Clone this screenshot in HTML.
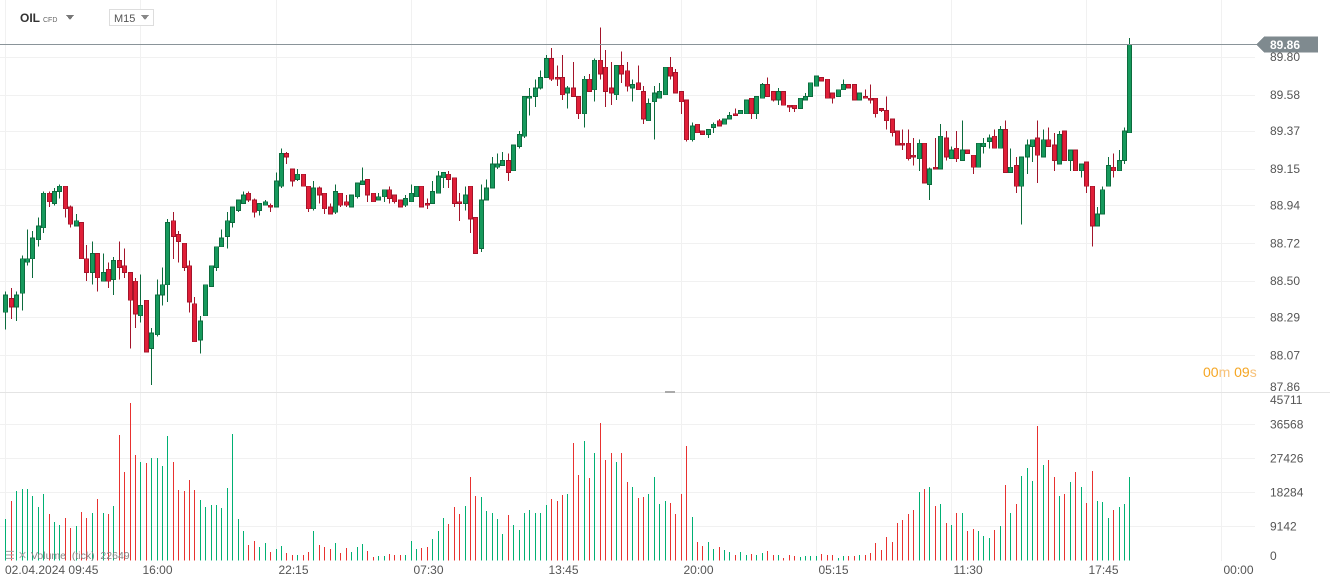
<!DOCTYPE html>
<html><head><meta charset="utf-8">
<style>
html,body{margin:0;padding:0;background:#fff;}
body{width:1330px;height:587px;overflow:hidden;position:relative;font-family:"Liberation Sans",sans-serif;}
svg{position:absolute;left:0;top:0;}
text{font-family:"Liberation Sans",sans-serif;}
</style></head>
<body>
<svg id="chart" width="1330" height="587" viewBox="0 0 1330 587" shape-rendering="crispEdges">
  <g id="grid"></g>
  <g id="vol"></g>
  <g id="candles"></g>
  <g id="axes"></g>
  <g>
    <text x="20" y="22" font-size="12" font-weight="bold" fill="#333">OIL</text>
    <text x="43" y="22" font-size="7" fill="#666">CFD</text>
    <path d="M66 15 L74 15 L70 20 Z" fill="#777"/>
    <rect x="109.5" y="9.5" width="44" height="16" fill="#fff" stroke="#ddd"/>
    <text x="114" y="22" font-size="11" fill="#555">M15</text>
    <path d="M141 15 L149 15 L145 20 Z" fill="#888"/>
  </g>
  <g>
    <text x="1203" y="377" font-size="14" fill="#f5a623"><tspan>00</tspan><tspan fill="#f7c27a">m</tspan><tspan> 09</tspan><tspan fill="#f7c27a">s</tspan></text>
  </g>
  <g>
    <text x="5" y="559" font-size="11" fill="#aaa">☰ ✕</text>
    <text x="31" y="559" font-size="10.5" fill="#888" xml:space="preserve">Volume  (tick)  22649</text>
  </g>
  <rect x="665" y="391" width="10" height="2" fill="#aaa"/>
</svg>
<script>
const openP=[88.32,88.40,88.35,88.43,88.61,88.63,88.74,88.81,89.01,88.95,89.02,89.05,88.93,88.82,88.84,88.63,88.55,88.66,88.50,88.57,88.51,88.62,88.59,88.55,88.50,88.30,88.39,88.11,88.19,88.42,88.48,88.85,88.77,88.72,88.59,88.37,88.16,88.30,88.47,88.58,88.70,88.76,88.84,88.91,88.95,89.01,88.97,88.91,88.94,88.94,88.93,89.05,
89.24,89.15,89.09,89.12,89.05,88.92,89.04,89.01,88.93,88.90,89.01,88.96,88.93,88.99,89.06,89.09,89.01,88.97,88.99,89.03,89.00,88.97,88.94,88.96,88.99,89.05,88.95,88.95,89.01,89.10,89.12,89.10,88.96,88.95,89.05,88.87,88.69,88.97,89.04,89.16,89.17,89.20,89.14,89.28,89.34,89.56,89.57,89.62,89.68,89.79,89.68,89.68,89.59,
89.62,89.57,89.47,89.67,89.61,89.78,89.74,89.62,89.58,89.75,89.72,89.62,89.65,89.60,89.43,89.54,89.56,89.58,89.74,89.71,89.60,89.55,89.32,89.41,89.37,89.35,89.39,89.43,89.41,89.44,89.47,89.47,89.47,89.56,89.47,89.56,89.64,89.60,89.55,89.60,89.52,89.52,89.50,89.55,89.57,89.63,89.68,89.67,89.59,89.57,89.61,89.64,89.64,89.55,
89.57,89.56,89.56,89.50,89.49,89.44,89.37,89.30,89.30,89.23,89.21,89.30,89.06,89.16,89.15,89.33,89.21,89.27,89.20,89.26,89.23,89.16,89.28,89.31,89.34,89.27,89.38,89.13,89.17,89.05,89.22,89.28,89.33,89.22,89.32,89.29,89.18,89.37,89.20,89.26,89.14,89.19,89.05,88.82,88.89,89.05,89.16,89.14,89.20,89.36];
const highP=[88.44,88.46,88.44,88.65,88.80,88.79,88.87,89.02,89.02,89.04,89.06,89.05,88.94,88.89,88.84,88.71,88.73,88.66,88.66,88.61,88.64,88.73,88.69,88.55,88.52,88.54,88.39,88.23,88.51,88.58,88.86,88.90,88.79,88.72,88.62,88.41,88.30,88.48,88.59,88.70,88.80,88.90,88.93,88.97,89.02,89.02,88.98,88.95,88.97,88.95,89.13,89.27,
89.25,89.15,89.15,89.12,89.05,89.08,89.05,89.01,88.95,89.06,89.01,89.00,89.00,89.07,89.16,89.09,89.01,89.01,89.03,89.05,89.00,88.97,89.00,89.06,89.05,89.05,88.98,89.08,89.14,89.13,89.14,89.10,89.01,89.05,89.05,88.87,89.06,89.09,89.22,89.24,89.25,89.24,89.29,89.37,89.57,89.62,89.67,89.72,89.81,89.85,89.75,89.81,89.63,
89.77,89.57,89.69,89.70,89.79,89.97,89.84,89.77,89.75,89.83,89.77,89.67,89.75,89.63,89.56,89.63,89.65,89.74,89.80,89.73,89.60,89.55,89.42,89.41,89.37,89.38,89.42,89.44,89.44,89.48,89.50,89.49,89.55,89.56,89.57,89.65,89.68,89.60,89.62,89.60,89.52,89.52,89.56,89.59,89.65,89.69,89.68,89.67,89.59,89.61,89.67,89.64,89.64,89.59,
89.61,89.64,89.56,89.50,89.57,89.44,89.37,89.38,89.38,89.33,89.32,89.30,89.16,89.33,89.41,89.37,89.28,89.37,89.43,89.26,89.23,89.30,89.33,89.35,89.38,89.40,89.43,89.27,89.22,89.22,89.32,89.32,89.43,89.38,89.39,89.36,89.37,89.37,89.26,89.26,89.18,89.19,89.05,88.93,89.05,89.22,89.24,89.26,89.39,89.91];
const lowP=[88.22,88.28,88.27,88.33,88.59,88.52,88.70,88.78,88.93,88.94,88.98,88.87,88.81,88.82,88.63,88.50,88.48,88.44,88.50,88.46,88.42,88.51,88.52,88.11,88.23,88.26,88.09,87.90,88.18,88.36,88.38,88.63,88.61,88.56,88.32,88.15,88.08,88.30,88.47,88.56,88.70,88.69,88.81,88.90,88.95,88.96,88.87,88.88,88.94,88.90,88.93,89.04,
89.18,89.05,89.08,89.05,88.90,88.91,88.95,88.89,88.89,88.89,88.93,88.93,88.93,88.98,89.06,88.96,88.96,88.97,88.96,88.95,88.95,88.93,88.93,88.96,88.99,88.93,88.92,88.95,89.01,89.04,89.04,88.93,88.85,88.91,88.78,88.66,88.67,88.97,89.04,89.15,89.17,89.08,89.14,89.27,89.33,89.46,89.51,89.61,89.68,89.66,89.63,89.55,89.50,
89.57,89.44,89.39,89.60,89.54,89.67,89.51,89.52,89.55,89.65,89.60,89.54,89.61,89.41,89.43,89.32,89.56,89.58,89.67,89.59,89.47,89.31,89.31,89.36,89.35,89.33,89.36,89.40,89.41,89.46,89.46,89.47,89.47,89.44,89.44,89.56,89.57,89.54,89.52,89.52,89.48,89.48,89.50,89.55,89.57,89.63,89.66,89.56,89.53,89.57,89.61,89.62,89.55,89.55,
89.56,89.53,89.45,89.48,89.38,89.34,89.29,89.26,89.20,89.17,89.14,89.07,88.97,89.15,89.15,89.20,89.21,89.19,89.26,89.24,89.12,89.16,89.24,89.27,89.27,89.27,89.13,89.13,89.01,88.83,89.12,89.19,89.07,89.22,89.28,89.14,89.18,89.20,89.14,89.14,89.10,89.01,88.70,88.82,88.89,89.05,89.10,89.14,89.18,89.36];
const closeP=[88.42,88.35,88.42,88.63,88.63,88.75,88.82,89.01,88.96,89.02,89.05,88.92,88.83,88.85,88.63,88.55,88.66,88.52,88.55,88.50,88.62,88.58,88.55,88.39,88.31,88.36,88.09,88.20,88.42,88.48,88.84,88.76,88.73,88.58,88.38,88.15,88.27,88.48,88.59,88.70,88.75,88.85,88.93,88.97,89.00,88.97,88.90,88.95,88.96,88.93,89.08,89.24,
89.22,89.08,89.12,89.05,88.92,89.04,89.00,88.92,88.89,89.02,88.94,88.94,89.00,89.07,89.08,89.00,88.96,88.99,89.03,88.98,88.96,88.93,88.98,89.01,89.05,88.93,88.94,89.02,89.11,89.13,89.09,88.95,88.95,89.00,88.86,88.66,88.97,89.04,89.18,89.18,89.20,89.13,89.29,89.35,89.57,89.57,89.62,89.68,89.79,89.67,89.67,89.58,89.62,
89.57,89.47,89.67,89.60,89.78,89.70,89.60,89.59,89.75,89.70,89.63,89.64,89.61,89.44,89.53,89.59,89.60,89.74,89.69,89.59,89.54,89.32,89.40,89.36,89.35,89.38,89.41,89.40,89.44,89.46,89.46,89.49,89.55,89.47,89.57,89.64,89.57,89.55,89.60,89.52,89.51,89.50,89.56,89.57,89.65,89.69,89.66,89.56,89.56,89.61,89.64,89.62,89.55,89.59,
89.56,89.55,89.47,89.49,89.43,89.36,89.29,89.29,89.21,89.22,89.30,89.07,89.15,89.15,89.34,89.22,89.26,89.21,89.26,89.24,89.16,89.30,89.30,89.33,89.27,89.38,89.13,89.16,89.05,89.22,89.29,89.32,89.23,89.32,89.28,89.20,89.35,89.20,89.26,89.14,89.18,89.05,88.82,88.89,89.03,89.17,89.14,89.20,89.37,89.87];
const volumes=[11100,15900,18600,19200,19200,17300,14300,17800,12500,10300,9500,11400,8700,9200,13000,11400,12700,16500,12700,12500,14600,33700,23700,42300,28300,26400,26200,27500,27500,25400,33400,26400,18900,18600,21600,18900,16200,14300,14900,14900,14100,19400,34000,11100,7900,4100,5200,3600,4700,2200,3000,3900,
2000,1400,1400,1400,2200,7900,4100,3600,3000,4700,2000,3300,2200,3600,4400,2500,900,1200,1200,1700,1400,1400,1400,5200,3000,3300,3600,5700,7900,11400,9800,14300,12500,14600,22400,17300,17000,13300,12700,11100,7100,12200,9500,8200,12700,13500,12700,12700,14900,16500,15900,17600,17800,
31500,22900,32100,22100,28900,36900,27000,28900,26400,28900,21100,19700,16800,17000,17800,22400,15100,15900,15400,12500,17800,30700,11600,4900,3900,4900,3000,3600,2800,2200,1400,2200,1400,1700,1400,2000,2500,1400,1400,600,1400,1200,900,1200,1200,1200,1700,1400,1400,600,1200,1200,1200,1400,
1400,2000,4700,2800,6300,4900,10000,10800,12500,13500,18400,19200,19700,14600,15100,10000,9500,12700,12700,7900,8400,7900,6500,6000,8200,9200,20200,12700,15100,22700,24800,21300,36100,25600,27000,22400,17300,17800,21100,23700,19700,15400,24000,15900,15700,11400,13500,14300,15100,22400];
const priceTicks=["89.80","89.58","89.37","89.15","88.94","88.72","88.50","88.29","88.07","87.86"];
const volTicks=["0","9142","18284","27426","36568","45711"];
const timeLabels=["02.04.2024  09:45","16:00","22:15","07:30","13:45","20:00","05:15","11:30","17:45","00:00"];
const lastPrice=89.86;

const NS="http://www.w3.org/2000/svg";
const X0=5.3, DX=5.404, PLOT_R=1255;
function xAt(i){return X0+i*DX;}
function yP(p){return 205.3+(88.94-p)*172.6;}
function yV(v){return 560.3-v*(34/9142);}
function mk(tag,attrs,parent){const e=document.createElementNS(NS,tag);for(const k in attrs)e.setAttribute(k,attrs[k]);parent.appendChild(e);return e;}

const grid=document.getElementById('grid'), axes=document.getElementById('axes');
priceTicks.forEach(t=>{
  const y=Math.round(yP(parseFloat(t)))+0.5;
  const gl=mk('line',{x1:0,x2:PLOT_R,y1:y,y2:y,stroke:'#f1f1f1'},grid);
  
  
  const tx=mk('text',{x:1270,y:Math.min(yP(parseFloat(t))+4,391),'font-size':12,fill:'#555'},axes);
  tx.textContent=t;
  
  
});
volTicks.forEach(t=>{
  const v=parseFloat(t), y=Math.round(yV(v))+0.5;
  if(v>0&&v<45000){
    const gl=mk('line',{x1:0,x2:PLOT_R,y1:y,y2:y,stroke:'#f1f1f1'},grid);
    
    
  }
  const tx=mk('text',{x:1270,y:v>45000?404:(v===0?560:yV(v)+4),'font-size':12,fill:'#555'},axes);
  tx.textContent=t;
  
  
});
timeLabels.forEach((t,k)=>{
  const x=Math.round(xAt(k*25))+0.5;
  const gl=mk('line',{x1:x,x2:x,y1:0,y2:561,stroke:'#f1f1f1'},grid);
  
  
  const tx=mk('text',{x:k===0?5:x+2,y:574,'font-size':12,fill:'#555','xml:space':'preserve'},axes);
  tx.textContent=t;
  
  
});
const sep=mk('line',{x1:0,x2:1330,y1:392.5,y2:392.5,stroke:'#e4e4e4'},axes);



const cg=document.getElementById('candles'), vg=document.getElementById('vol');
closeP.forEach((c,i)=>{
  const o=openP[i],h=highP[i],l=lowP[i];
  const up=c>=o, cx=Math.round(xAt(i));
  const fill=up?'#16995c':'#e01f38', edge=up?'#0c6b3d':'#a3142a';
  const w=mk('rect',{x:cx,y:yP(h),width:1,height:Math.max(1,yP(l)-yP(h)),fill:edge},cg);
  
  
  const top=yP(Math.max(o,c)), bot=yP(Math.min(o,c));
  const b=mk('rect',{x:cx-1.5,y:top,width:4,height:Math.max(1.5,bot-top),fill:fill,stroke:edge,'stroke-width':0.8},cg);
  
  
  const vb=mk('rect',{x:cx,y:yV(volumes[i]),width:1,height:560.3-yV(volumes[i]),fill:up?'#00b073':'#e8312f'},vg);
  
  
});
const ly=Math.round(yP(lastPrice))-2.5;
const pl=mk('line',{x1:0,x2:1258,y1:ly,y2:ly,stroke:'#8a9499'},axes);


const tag=mk('path',{d:`M1256 ${ly} L1264 ${ly-8} L1318 ${ly-8} L1318 ${ly+8} L1264 ${ly+8} Z`,fill:'#7f8a8f'},axes);


const tt=mk('text',{x:1270,y:ly+4.5,'font-size':12,'font-weight':'bold',fill:'#fff'},axes);
tt.textContent=lastPrice.toFixed(2);


</script>
</body></html>
